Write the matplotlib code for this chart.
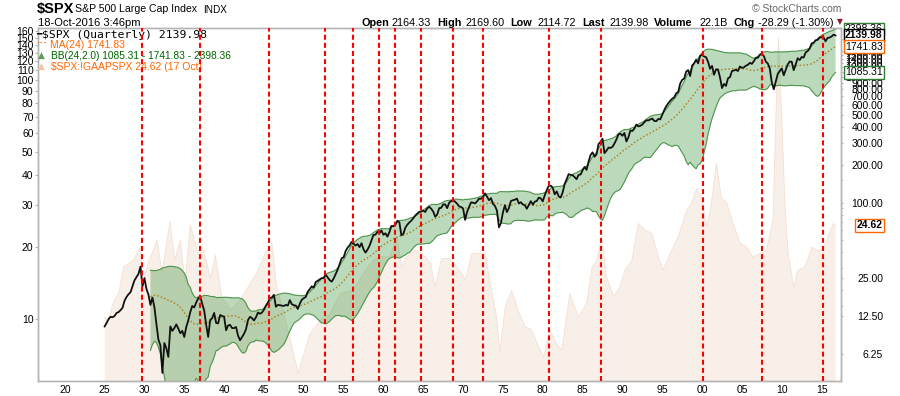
import matplotlib
matplotlib.use("Agg")
import matplotlib.pyplot as plt
import numpy as np
import pandas as pd
from matplotlib.ticker import FixedLocator, NullLocator, NullFormatter

plt.rcParams['font.family'] = ['Liberation Sans', 'DejaVu Sans']

# ---------------- data ----------------
first_quarter = 1925.0          # first quarterly close shown
spx_quarterly = [
    10.3, 11.0, 11.8, 12.3,      # 1925
    12.2, 12.5, 13.2, 13.4,      # 1926
    13.9, 14.5, 16.5, 17.7,      # 1927
    18.6, 19.3, 21.5, 24.0,      # 1928
    25.5, 27.0, 30.8, 21.5,      # 1929
    25.0, 20.5, 18.5, 15.3,      # 1930
    17.5, 14.7, 10.8, 8.1,       # 1931
    7.3, 4.4, 7.6, 6.9,          # 1932
    5.9, 10.3, 9.5, 10.0,        # 1933
    10.7, 9.9, 9.1, 9.5,         # 1934
    8.5, 10.2, 11.5, 13.4,       # 1935
    15.0, 14.6, 16.0, 17.2,      # 1936
    17.9, 15.6, 13.8, 10.6,      # 1937
    8.5, 11.6, 12.0, 13.2,       # 1938
    11.0, 10.9, 12.7, 12.5,      # 1939
    12.3, 9.6, 10.5, 10.6,       # 1940
    10.0, 10.0, 10.2, 8.7,       # 1941
    8.0, 8.5, 9.0, 9.8,          # 1942
    11.6, 12.3, 12.0, 11.5,      # 1943
    12.2, 13.3, 13.0, 13.3,      # 1944
    14.0, 15.1, 16.0, 17.4,      # 1945
    17.5, 18.4, 14.8, 15.3,      # 1946
    15.2, 15.1, 15.0, 15.3,      # 1947
    15.1, 16.7, 15.5, 15.2,      # 1948
    15.1, 14.2, 15.6, 16.8,      # 1949
    17.3, 17.7, 19.5, 20.4,      # 1950
    21.5, 21.0, 23.3, 23.8,      # 1951
    24.4, 25.0, 25.0, 26.6,      # 1952
    25.3, 24.1, 23.4, 24.8,      # 1953
    26.9, 29.2, 32.3, 36.0,      # 1954
    36.6, 41.0, 43.7, 45.5,      # 1955
    48.5, 46.9, 45.4, 46.7,      # 1956
    44.1, 47.4, 42.4, 39.9,      # 1957
    42.1, 45.2, 50.1, 55.2,      # 1958
    55.4, 58.5, 56.9, 59.9,      # 1959
    55.3, 56.9, 53.5, 58.1,      # 1960
    65.1, 64.6, 66.7, 71.6,      # 1961
    69.6, 54.8, 56.3, 63.1,      # 1962
    66.6, 69.4, 71.7, 75.0,      # 1963
    78.9, 81.7, 84.2, 84.8,      # 1964
    86.2, 84.1, 89.9, 92.4,      # 1965
    89.2, 84.7, 77.0, 80.3,      # 1966
    90.2, 90.6, 96.7, 96.5,      # 1967
    90.2, 99.6, 102.7, 103.9,    # 1968
    101.5, 97.7, 93.1, 92.1,     # 1969
    89.6, 72.7, 84.2, 92.2,      # 1970
    100.3, 99.7, 98.3, 102.1,    # 1971
    107.2, 107.1, 110.6, 118.1,  # 1972
    111.5, 104.3, 108.4, 97.6,   # 1973
    94.0, 86.0, 63.5, 68.6,      # 1974
    83.4, 95.2, 83.9, 90.2,      # 1975
    102.8, 104.3, 105.2, 107.5,  # 1976
    98.4, 100.5, 96.5, 95.1,     # 1977
    89.2, 95.5, 102.5, 96.1,     # 1978
    101.6, 102.9, 109.3, 107.9,  # 1979
    102.1, 114.2, 125.5, 135.8,  # 1980
    136.0, 131.2, 116.2, 122.6,  # 1981
    112.0, 109.6, 120.4, 140.6,  # 1982
    153.0, 168.1, 166.1, 164.9,  # 1983
    159.2, 153.2, 166.1, 167.2,  # 1984
    180.7, 191.9, 182.1, 211.3,  # 1985
    238.9, 250.8, 231.3, 242.2,  # 1986
    291.7, 304.0, 321.8, 247.1,  # 1987
    258.9, 273.5, 271.9, 277.7,  # 1988
    294.9, 318.0, 349.2, 353.4,  # 1989
    339.9, 358.0, 306.1, 330.2,  # 1990
    375.2, 371.2, 387.9, 417.1,  # 1991
    403.7, 408.1, 417.8, 435.7,  # 1992
    451.7, 450.5, 458.9, 466.5,  # 1993
    445.8, 444.3, 462.7, 459.3,  # 1994
    500.7, 544.8, 584.4, 615.9,  # 1995
    645.5, 670.6, 687.3, 740.7,  # 1996
    757.1, 885.1, 947.3, 970.4,  # 1997
    1101.8, 1133.8, 1017.0, 1229.2,  # 1998
    1286.4, 1372.7, 1282.7, 1469.3,  # 1999
    1498.6, 1454.6, 1436.5, 1320.3,  # 2000
    1160.3, 1224.4, 1040.9, 1148.1,  # 2001
    1147.4, 989.8, 815.3, 879.8,     # 2002
    848.2, 974.5, 996.0, 1111.9,     # 2003
    1126.2, 1140.8, 1114.6, 1211.9,  # 2004
    1180.6, 1191.3, 1228.8, 1248.3,  # 2005
    1294.8, 1270.2, 1335.9, 1418.3,  # 2006
    1420.9, 1503.4, 1526.8, 1468.4,  # 2007
    1322.7, 1280.0, 1166.4, 903.3,   # 2008
    797.9, 919.3, 1057.1, 1115.1,    # 2009
    1169.4, 1030.7, 1141.2, 1257.6,  # 2010
    1325.8, 1320.6, 1131.4, 1257.6,  # 2011
    1408.5, 1362.2, 1440.7, 1426.2,  # 2012
    1569.2, 1606.3, 1681.6, 1848.4,  # 2013
    1872.3, 1960.2, 1972.3, 2058.9,  # 2014
    2067.9, 2063.1, 1920.0, 2043.9,  # 2015
    2059.7, 2098.9, 2168.3, 2139.98, # 2016
]

# GAAP P/E overlay
pe_years = [1925.0, 1925.4, 1926.0, 1926.8, 1927.4, 1928.6, 1929.5, 1929.8, 1930.5,
            1931.6, 1932.2, 1933.2, 1933.8, 1934.5, 1935.1, 1935.75, 1936.6, 1937.4,
            1938.3, 1938.9, 1939.7, 1940.8, 1942.0, 1943.3, 1944.1, 1945.2, 1946.0,
            1946.6, 1947.4, 1948.3, 1949.3, 1949.9, 1950.8, 1952.1, 1953.3, 1954.6,
            1956.2, 1957.5, 1958.75, 1959.6, 1960.8, 1961.7, 1962.3, 1962.9, 1964.0,
            1964.8, 1965.9, 1966.5, 1967.3, 1968.4, 1969.2, 1970.3, 1971.1, 1972.1,
            1972.8, 1973.4, 1974.2, 1974.6, 1975.3, 1976.1, 1976.9, 1977.8, 1978.6,
            1979.3, 1980.1, 1980.9, 1981.7, 1982.4, 1983.4, 1984.5, 1985.5, 1986.2,
            1986.8, 1987.4, 1988.0, 1988.9, 1989.7, 1990.3, 1991.2, 1992.0, 1992.8,
            1993.7, 1994.5, 1995.1, 1996.0, 1997.0, 1998.1, 1998.7, 1999.3, 1999.9,
            2000.6, 2001.1, 2001.8, 2002.4, 2003.1, 2003.9, 2004.8, 2005.6, 2006.4,
            2007.3, 2008.1, 2008.9, 2009.3, 2009.6, 2010.0, 2010.4, 2010.8, 2011.5,
            2012.0, 2012.9, 2013.8, 2014.4, 2015.2, 2015.8, 2016.5, 2016.75]
pe_values = [10.2, 9.6, 11.5, 13.0, 16.5, 17.6, 20.1, 14.1, 17.2,
             21.4, 15.6, 25.5, 17.6, 21.4, 14.1, 24.7, 19.4, 19.4,
             14.8, 18.5, 12.4, 10.9, 12.0, 14.1, 15.6, 18.9, 20.7,
             13.6, 10.9, 8.2, 5.95, 6.95, 8.7, 9.9, 10.5, 12.8,
             13.2, 15.5, 17.6, 18.2, 18.2, 22.0, 16.5, 18.2, 19.4,
             18.9, 17.2, 13.6, 17.9, 17.9, 16.5, 14.6, 18.8, 18.8,
             18.8, 14.1, 10.2, 7.3, 11.3, 13.2, 10.9, 9.3, 9.0,
             7.9, 6.95, 9.0, 7.9, 7.4, 12.8, 10.2, 11.6, 16.5,
             17.6, 22.1, 15.0, 12.4, 13.6, 16.0, 17.6, 25.1, 23.6,
             22.8, 18.2, 16.0, 18.8, 22.1, 28.6, 30.5, 35.2, 32.4,
             24.3, 29.5, 44.9, 32.4, 30.5, 25.1, 20.7, 20.0, 18.2,
             18.8, 19.4, 25.9, 77.0, 150.0, 70.0, 30.0, 18.8, 13.6,
             16.0, 16.5, 20.0, 19.4, 19.4, 22.1, 25.1, 24.62]

peak_lines = [1929.72, 1937.03, 1945.68, 1952.69, 1956.2, 1959.46, 1961.47, 1964.72,
              1968.73, 1972.49, 1980.76, 1987.28, 2000.12, 2007.46, 2015.23]

left_ticks = [10, 20, 30, 40, 50, 60, 70, 80, 90, 100, 110, 120, 130, 140, 150, 160]
right_ticks = [6.25, 12.5, 25, 100, 200, 300, 400, 500, 600, 700, 800, 900,
               1000, 1100, 1200, 1300, 1400, 1500, 1600]
x_tick_years = list(range(1920, 2016, 5))
x_tick_labels = ['20', '25', '30', '35', '40', '45', '50', '55', '60', '65', '70',
                 '75', '80', '85', '90', '95', '00', '05', '10', '15']

last_values = {'upper': 2398.36, 'close': 2139.98, 'ma': 1741.83, 'lower': 1085.31, 'pe': 24.62}

# ---------------- indicators ----------------
spx = pd.Series(spx_quarterly, dtype=float)
xq = first_quarter + 0.25 * np.arange(len(spx))
ma = spx.rolling(24).mean()
sd = spx.rolling(24).std(ddof=0)
upper = (ma + 2 * sd).values
lower = np.clip((ma - 2 * sd).values, 0.5, None)
valid = ~np.isnan(ma.values)

# ---------------- figure ----------------
W, H = 900, 396
fig = plt.figure(figsize=(W / 100, H / 100), dpi=100)
L, R, T, B = 37.7, 840.7, 28.3, 381.0
ax_pe = fig.add_axes([L / W, 1 - B / H, (R - L) / W, (B - T) / H])
ax_px = ax_pe.twinx()

gray = '#b4b4b4'
for a in (ax_pe, ax_px):
    for s in a.spines.values():
        s.set_color(gray)
        s.set_linewidth(1.0)

# P/E area (left scale)
ax_pe.set_yscale('log')
ax_pe.set_ylim(5.51, 164.2)
ax_pe.fill_between(pe_years, pe_values, 1, color='#efd5c3', alpha=0.36, lw=0, zorder=1)
ax_pe.plot(pe_years, pe_values, color='#f3e0d3', lw=0.6, zorder=1.1)

# price axis (right scale)
ax_px.set_yscale('log')
ax_px.set_ylim(3.79, 2439)
ax_px.plot(xq[valid], ma.values[valid], color='#e06a00', lw=1.0, ls=(0, (1, 1.6)), zorder=1)
ax_px.fill_between(xq[valid], lower[valid], upper[valid], color='#3c963c', alpha=0.35,
                   lw=0, zorder=2)
ax_px.plot(xq[valid], upper[valid], color='#4a934a', lw=0.8, zorder=2.1)
ax_px.plot(xq[valid], lower[valid], color='#4a934a', lw=0.8, zorder=2.1)
ax_px.plot(xq, spx.values, color='#111111', lw=1.3, zorder=3)
for yr in peak_lines:
    ax_px.axvline(yr, color='#ff0000', lw=1.5, ls=(0, (2.4, 1.5)), zorder=4)

ax_pe.set_xlim(1916.6, 2017.4)

# x ticks
ax_pe.set_xticks(x_tick_years, labels=x_tick_labels)
ax_pe.tick_params(axis='x', length=0, pad=3, labelsize=7.5, colors='#000000')

# left ticks
ax_pe.yaxis.set_major_locator(FixedLocator(left_ticks))
ax_pe.yaxis.set_minor_locator(NullLocator())
ax_pe.set_yticklabels([str(v) for v in left_ticks])
ax_pe.tick_params(axis='y', which='major', length=2.2, width=0.8, color=gray,
                  pad=0.8, labelsize=7.5, labelcolor='#000000')

# right ticks
ax_px.yaxis.set_major_locator(FixedLocator(right_ticks))
ax_px.set_yticklabels([f'{v:.2f}' for v in right_ticks])
minor = [m * d for d in (10, 100, 1000) for m in (1.5, 2, 3, 4, 5, 6, 7, 8, 9)]
ax_px.yaxis.set_minor_locator(FixedLocator(minor))
ax_px.yaxis.set_minor_formatter(NullFormatter())
ax_px.tick_params(axis='y', which='major', length=1.6, width=0.8, color=gray,
                  pad=29.0, labelsize=7.5, labelcolor='#000000')
ax_px.tick_params(axis='y', which='minor', length=1.4, width=0.6, color=gray)
for lbl in ax_px.get_yticklabels():
    lbl.set_horizontalalignment('right')

# value markers on the right
xr = (882.5 - L) / (R - L)
def marker(ax, val, txt, ec, bold=False):
    ax.text(xr, val, txt, transform=ax.get_yaxis_transform(), ha='right', va='center',
            fontsize=7.5, fontweight='bold' if bold else 'normal', color='black',
            clip_on=False, zorder=10,
            bbox=dict(boxstyle='square,pad=0.12', fc='white', ec=ec, lw=1.0))

marker(ax_px, last_values['upper'], '2398.36', '#2e7d32')
marker(ax_px, last_values['close'], '2139.98', '#000000', bold=True)
marker(ax_px, last_values['ma'], '1741.83', '#ff6600')
marker(ax_px, last_values['lower'], '1085.31', '#2e7d32')
marker(ax_pe, last_values['pe'], '24.62', '#ff6600', bold=True)

# ---------------- header ----------------
def ftxt(x, y, s, **kw):
    kw.setdefault('va', 'center')
    kw.setdefault('ha', 'left')
    fig.text(x / W, 1 - y / H, s, **kw)

ftxt(37.0, 9.5, r'\$SPX', fontsize=10.5, fontweight='bold')
ftxt(75.0, 9.5, 'S&P 500 Large Cap Index', fontsize=7.6)
ftxt(203.0, 9.8, 'INDX', fontsize=7.2)
ftxt(37.7, 22.7, '18-Oct-2016 3:46pm', fontsize=8)
ftxt(752.0, 9.3, '\u00a9 StockCharts.com', fontsize=7.5, color='#666666')

hdr = [(361, 'Open', True), (392, '2164.33', False), (437.7, 'High', True),
       (465, '2169.60', False), (510, 'Low', True), (537.5, '2114.72', False),
       (582, 'Last', True), (609, '2139.98', False), (654, 'Volume', True),
       (699, '22.1B', False), (734, 'Chg', True), (758, '-28.29 (-1.30%)', False)]
for x0, s, b in hdr:
    ftxt(x0, 22.7, s, fontsize=7.8, fontweight='bold' if b else 'normal')
ftxt(837, 22.0, '\u25bc', fontsize=5.5, color='#8b1a2b', family='DejaVu Sans')

# ---------------- legend (beneath the red lines) ----------------
def ltxt(x, y, s, **kw):
    ax_px.text(x / W, 1 - y / H, s, transform=fig.transFigure, va='center', ha='left',
               zorder=3.5, clip_on=False, **kw)

ltxt(36.5, 34.5, '\u2501', fontsize=6.5, color='black', family='DejaVu Sans')
ltxt(42.3, 34.7, r'\$SPX (Quarterly) 2139.98', fontsize=8.2, family='DejaVu Sans Mono')
ltxt(36.5, 44.2, '\u00b7\u00b7\u00b7', fontsize=8, color='#ff6600', fontweight='bold')
ltxt(50.0, 44.7, 'MA(24) 1741.83', fontsize=7.5, color='#ff6600')
ltxt(37.5, 55.5, '\u25b2', fontsize=6.5, color='#5d9e5d', family='DejaVu Sans')
ltxt(50.7, 56.0, 'BB(24,2.0) 1085.31 - 1741.83 - 2398.36', fontsize=7.3, color='#006400')
ltxt(37.5, 66.8, '\u25b2', fontsize=6.5, color='#f2c4a6', family='DejaVu Sans')
ltxt(50.7, 67.3, r'\$SPX:!GAAPSPX 24.62 (17 Oct)', fontsize=7.5, color='#ff6600')

fig.savefig('out.png', dpi=100)
